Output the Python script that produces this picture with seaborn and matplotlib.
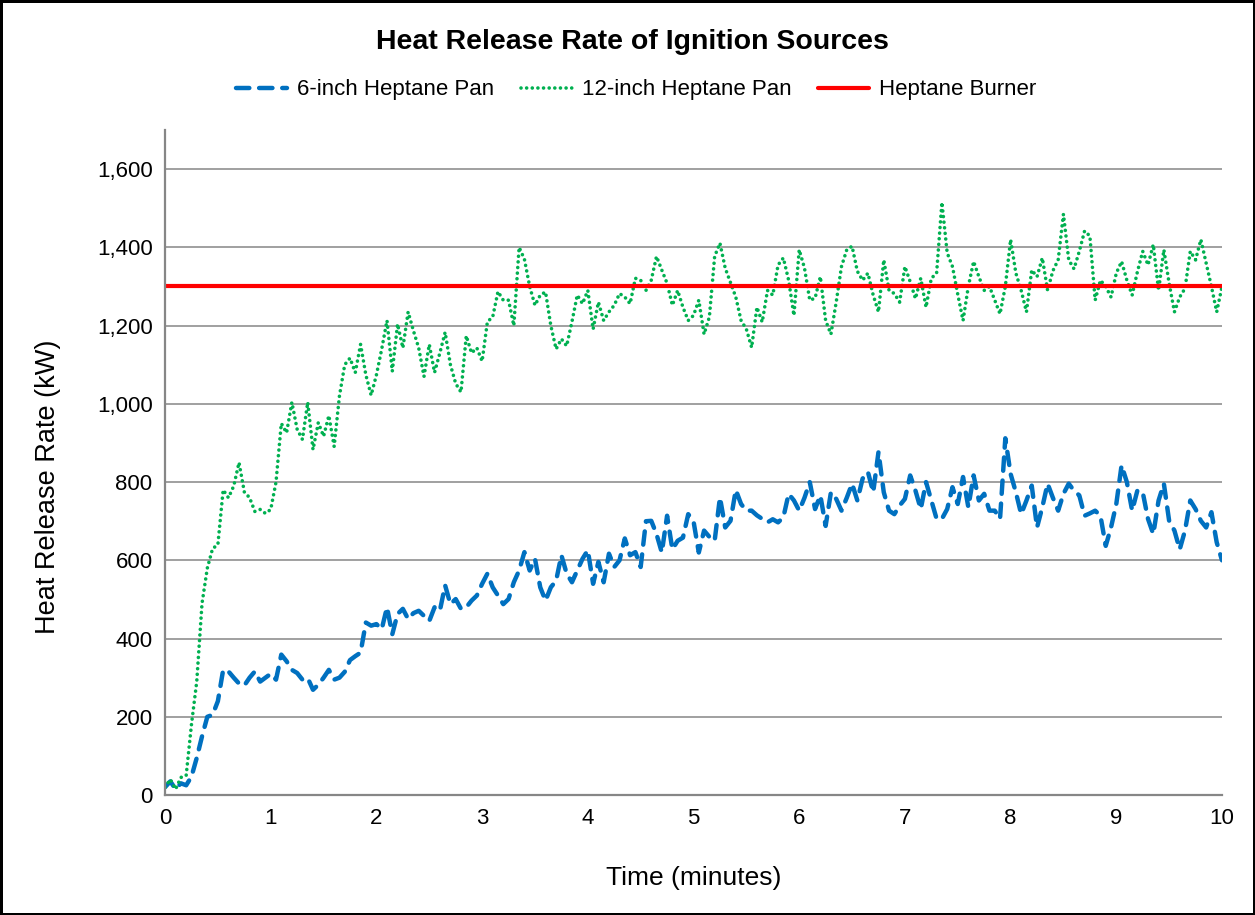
import numpy as np
import matplotlib
matplotlib.use("Agg")
import matplotlib.pyplot as plt
import seaborn as sns
from matplotlib.ticker import StrMethodFormatter

# Sample times (minutes), one reading every 3 seconds
time = np.linspace(0, 10, 201)

# 6-inch heptane pan (kW)
pan_6in = [20, 35, 15, 30, 25, 47, 95, 150, 200, 205,
           240, 320, 316, 300, 285, 280, 300, 316, 290, 300,
           310, 295, 359, 342, 320, 312, 295, 299, 269, 282,
           300, 320, 295, 300, 315, 345, 355, 364, 441, 433,
           437, 424, 480, 411, 463, 476, 450, 465, 471, 458,
           445, 480, 471, 536, 488, 501, 476, 480, 497, 510,
           540, 566, 531, 510, 488, 501, 544, 574, 621, 574,
           604, 531, 497, 531, 548, 613, 566, 544, 574, 604,
           626, 540, 596, 544, 617, 583, 600, 656, 613, 621,
           583, 700, 701, 667, 620, 714, 628, 650, 658, 718,
           700, 620, 676, 660, 650, 761, 684, 701, 780, 744,
           727, 727, 715, 706, 697, 705, 697, 710, 770, 753,
           727, 760, 800, 731, 766, 688, 774, 757, 727, 760,
           796, 753, 809, 826, 774, 877, 774, 727, 718, 740,
           757, 817, 778, 731, 800, 753, 706, 706, 731, 787,
           744, 813, 736, 817, 753, 770, 727, 727, 706, 912,
           821, 774, 718, 753, 791, 684, 736, 796, 760, 727,
           770, 796, 778, 766, 714, 720, 727, 714, 637, 684,
           744, 843, 800, 727, 779, 774, 706, 667, 753, 796,
           701, 676, 628, 676, 753, 731, 701, 684, 723, 646,
           600]

# 12-inch heptane pan (kW)
pan_12in = [20, 40, 15, 45, 50, 180, 290, 490, 580, 630,
            640, 780, 760, 790, 850, 775, 760, 725, 730, 720,
            730, 800, 950, 926, 1004, 935, 909, 1004, 883, 952,
            917, 970, 891, 1020, 1100, 1117, 1080, 1152, 1074, 1022,
            1074, 1140, 1213, 1083, 1204, 1143, 1235, 1187, 1143, 1070,
            1152, 1080, 1130, 1183, 1100, 1052, 1030, 1174, 1130, 1143,
            1109, 1210, 1222, 1287, 1265, 1265, 1200, 1400, 1370, 1300,
            1252, 1278, 1286, 1200, 1140, 1166, 1148, 1210, 1278, 1256,
            1290, 1191, 1260, 1213, 1235, 1252, 1282, 1273, 1256, 1321,
            1316, 1290, 1316, 1377, 1342, 1308, 1252, 1290, 1247, 1213,
            1226, 1265, 1178, 1222, 1377, 1411, 1347, 1310, 1273, 1213,
            1191, 1144, 1247, 1209, 1290, 1278, 1355, 1373, 1316, 1226,
            1394, 1347, 1265, 1270, 1325, 1213, 1178, 1260, 1351, 1394,
            1403, 1339, 1316, 1334, 1278, 1235, 1368, 1290, 1282, 1260,
            1351, 1312, 1269, 1321, 1247, 1321, 1334, 1515, 1386, 1351,
            1280, 1213, 1300, 1364, 1325, 1290, 1300, 1265, 1230, 1300,
            1420, 1334, 1290, 1235, 1342, 1325, 1373, 1290, 1340, 1368,
            1485, 1368, 1345, 1390, 1442, 1429, 1265, 1316, 1300, 1273,
            1334, 1364, 1316, 1278, 1338, 1390, 1355, 1407, 1290, 1394,
            1308, 1235, 1273, 1295, 1390, 1368, 1420, 1360, 1300, 1235,
            1300]

# Heptane burner (kW)
burner_time = [0, 10]
burner_hrr = [1300, 1300]

sns.set_theme(style="white")
plt.rcParams['font.family'] = ['Liberation Sans', 'DejaVu Sans']
plt.rcParams['text.color'] = 'black'
plt.rcParams['axes.labelcolor'] = 'black'

fig = plt.figure(figsize=(12.55, 9.15), dpi=100)
fig.patch.set_edgecolor('black')
fig.patch.set_linewidth(2.5)
ax = fig.add_axes([0.1315, 0.1311, 0.8422, 0.7268])

grid_col = '#868686'

sns.lineplot(x=time, y=pan_6in, ax=ax, color='#0070C0', linewidth=3.2,
             linestyle=(0, (3.0, 2.2)), dash_capstyle='round',
             label='6-inch Heptane Pan')
sns.lineplot(x=time, y=pan_12in, ax=ax, color='#00B050', linewidth=2.6,
             linestyle=(0, (0.01, 1.55)), dash_capstyle='round',
             label='12-inch Heptane Pan')
sns.lineplot(x=burner_time, y=burner_hrr, ax=ax, color='#FF0000', linewidth=3,
             label='Heptane Burner')

ax.set_xlim(0, 10)
ax.set_ylim(0, 1700)
ax.set_xticks(range(0, 11))
ax.set_yticks(range(0, 1601, 200))
ax.yaxis.set_major_formatter(StrMethodFormatter('{x:,.0f}'))
ax.yaxis.grid(True, color=grid_col, linewidth=1.1)
ax.xaxis.grid(False)
ax.set_axisbelow(True)

for side in ['top', 'right']:
    ax.spines[side].set_visible(False)
for side in ['left', 'bottom']:
    ax.spines[side].set_color(grid_col)
    ax.spines[side].set_linewidth(1.6)

ax.tick_params(axis='both', which='major', direction='out', length=5,
               width=1.3, color=grid_col, labelsize=16, labelcolor='black', pad=4)

ax.set_xlabel('Time (minutes)', fontsize=19, color='black')
ax.set_ylabel('Heat Release Rate (kW)', fontsize=19.5, color='black')
ax.xaxis.set_label_coords(0.5005, -0.125)
ax.xaxis.label.set_va('center')
ax.yaxis.set_label_coords(-0.111, 0.463)
ax.yaxis.label.set_va('center')

ax.get_legend().remove()
handles, labels = ax.get_legend_handles_labels()
fig.legend(handles, labels, loc='center', bbox_to_anchor=(0.507, 1 - 90 / 915),
           ncol=3, frameon=False, fontsize=16, handlelength=2.3,
           handletextpad=0.45, columnspacing=1.2, labelcolor='black')

fig.text(0.5036, 1 - 42 / 915, 'Heat Release Rate of Ignition Sources',
         ha='center', va='center', fontsize=20.5, fontweight='bold', color='black')

fig.savefig('out.png', dpi=100, edgecolor=fig.get_edgecolor())
